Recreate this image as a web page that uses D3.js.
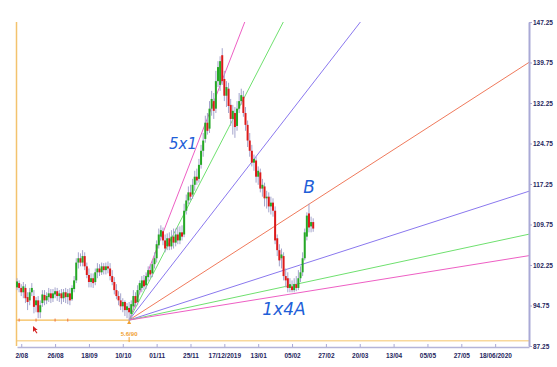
<!DOCTYPE html>
<html>
<head>
<meta charset="utf-8">
<script src="https://cdn.jsdelivr.net/npm/d3@7"></script>
<style>
body { margin: 0; background: #fff; }
svg { display: block; font-family: "Liberation Sans", Arial, sans-serif; }
</style>
</head>
<body>
<div id="chart"></div>
<script>
// daily bars
const opens = [
  98.1, 98.9, 98.0, 97.2, 98.0, 96.3, 95.7, 97.2, 96.5, 94.8,
  95.7, 93.5, 95.2, 96.7, 95.7, 96.3, 97.0, 96.1, 96.8, 97.4,
  96.5, 97.0, 96.1, 97.2, 96.3, 97.0, 95.9, 97.8, 99.4, 102.7,
  103.5, 102.7, 103.9, 102.0, 100.4, 99.1, 99.8, 99.1, 100.9, 101.6,
  100.9, 102.0, 101.3, 102.0, 101.6, 100.2, 99.1, 97.6, 96.5, 95.7,
  94.6, 95.4, 93.9, 94.3, 93.2, 94.6, 96.5, 95.4, 97.6, 98.0,
  99.4, 98.5, 100.0, 101.3, 100.7, 102.4, 103.5, 105.9, 107.5, 108.5,
  106.8, 105.7, 107.2, 105.7, 107.5, 106.4, 107.9, 106.8, 108.3, 107.9,
  112.3, 114.2, 115.7, 115.3, 117.1, 118.6, 118.2, 120.8, 123.4, 125.6,
  128.6, 127.5, 131.2, 132.6, 131.2, 136.3, 135.6, 141.1, 136.7, 133.6,
  134.9, 131.9, 129.3, 130.4, 128.0, 131.2, 132.6, 133.4, 130.4, 128.2,
  125.3, 123.4, 121.2, 121.6, 118.6, 119.4, 116.4, 116.8, 114.6, 114.9,
  113.1, 113.8, 112.3, 107.2, 105.0, 103.5, 103.9, 100.2, 99.8, 98.0,
  98.3, 97.6, 98.7, 98.0, 99.8, 100.9, 103.5, 107.5, 111.8, 109.4, 110.2
];
const highs = [
  99.8, 99.4, 98.7, 99.1, 98.7, 97.2, 98.0, 98.9, 97.6, 96.3,
  96.5, 95.7, 97.6, 97.6, 97.2, 98.0, 97.8, 97.8, 98.1, 98.0,
  97.6, 97.8, 97.8, 98.0, 97.8, 98.0, 98.5, 100.2, 103.5, 104.6,
  104.4, 105.0, 104.6, 102.7, 101.6, 100.7, 100.7, 101.6, 102.6, 102.4,
  102.7, 102.6, 102.7, 102.9, 102.6, 101.3, 100.0, 98.7, 97.4, 97.0,
  96.1, 95.7, 95.2, 95.4, 95.7, 97.6, 97.2, 98.5, 99.4, 100.2,
  100.4, 100.9, 102.0, 102.4, 103.1, 104.6, 106.8, 109.0, 109.6, 109.2,
  107.9, 108.1, 108.3, 108.7, 109.0, 109.0, 109.4, 109.4, 109.6, 113.6,
  115.3, 116.8, 117.1, 118.2, 119.7, 120.1, 121.9, 124.5, 126.7, 129.9,
  130.4, 132.6, 134.5, 134.1, 138.2, 140.0, 140.9, 142.4, 138.2, 136.3,
  136.0, 133.0, 131.9, 131.5, 132.6, 134.1, 134.9, 134.5, 131.5, 129.0,
  126.7, 124.5, 122.7, 122.3, 120.5, 120.1, 118.2, 117.5, 116.0, 115.7,
  114.9, 114.6, 113.1, 107.9, 106.1, 105.3, 104.6, 101.6, 100.9, 99.8,
  99.4, 99.8, 100.2, 101.3, 102.0, 104.6, 109.0, 112.0, 113.6, 111.2, 110.9
];
const lows = [
  97.6, 97.2, 96.5, 96.1, 95.2, 93.9, 94.8, 96.5, 93.3, 93.5,
  92.4, 92.4, 94.5, 94.8, 95.0, 95.4, 95.2, 95.4, 96.1, 95.6,
  95.4, 95.0, 95.4, 95.2, 95.0, 94.8, 95.6, 97.2, 98.9, 101.6,
  102.0, 102.0, 101.3, 99.8, 98.1, 98.1, 98.0, 98.5, 99.8, 100.2,
  100.4, 100.5, 100.5, 100.7, 99.4, 98.5, 96.8, 95.9, 94.8, 93.9,
  93.5, 92.8, 92.4, 92.05, 92.4, 93.9, 94.5, 94.8, 96.8, 97.2,
  97.6, 97.8, 99.2, 99.8, 100.0, 101.6, 102.7, 105.3, 106.8, 105.9,
  104.6, 105.0, 105.0, 105.1, 105.3, 105.7, 106.1, 106.1, 106.8, 107.4,
  111.6, 113.5, 114.2, 114.5, 116.0, 117.1, 117.5, 120.1, 122.3, 124.9,
  126.4, 126.7, 129.9, 129.3, 130.4, 135.2, 134.5, 135.6, 132.6, 131.5,
  130.4, 128.0, 126.4, 125.8, 127.1, 130.4, 131.9, 129.7, 127.1, 124.1,
  122.3, 120.5, 119.7, 117.5, 117.1, 115.7, 114.9, 113.1, 112.7, 112.0,
  111.6, 111.2, 106.1, 103.9, 102.0, 101.6, 99.4, 98.1, 97.2, 97.2,
  97.2, 97.2, 97.4, 97.6, 99.1, 100.2, 103.1, 106.8, 108.3, 108.3, 108.4
];
const closes = [
  99.2, 98.0, 97.2, 98.3, 96.1, 95.4, 97.2, 98.0, 94.5, 95.7,
  93.5, 94.8, 96.8, 95.7, 96.5, 97.0, 96.1, 97.0, 97.4, 96.5,
  97.0, 96.1, 97.2, 96.3, 97.0, 95.7, 98.0, 99.4, 102.7, 103.5,
  102.7, 103.9, 102.0, 100.4, 99.1, 99.8, 98.9, 100.9, 101.6, 100.9,
  102.0, 101.3, 102.0, 101.6, 100.2, 99.1, 97.6, 96.5, 95.7, 94.6,
  95.4, 93.9, 94.6, 93.5, 95.0, 96.5, 95.2, 97.6, 98.9, 99.4,
  98.3, 100.2, 101.3, 100.5, 102.4, 103.5, 106.1, 107.9, 108.7, 106.8,
  105.3, 107.2, 105.7, 107.5, 106.4, 107.9, 106.8, 108.3, 107.5, 112.3,
  114.2, 115.7, 114.9, 117.1, 118.6, 117.9, 120.8, 123.4, 125.3, 128.6,
  127.1, 131.2, 133.0, 130.8, 136.3, 138.9, 140.0, 136.3, 133.6, 135.2,
  131.7, 129.3, 130.8, 127.8, 131.2, 132.6, 133.7, 130.4, 128.2, 125.3,
  123.4, 121.2, 121.9, 118.6, 119.7, 116.4, 117.1, 114.6, 114.9, 113.1,
  113.8, 112.3, 106.8, 105.0, 103.1, 104.2, 100.2, 99.4, 98.0, 98.7,
  97.6, 98.7, 98.0, 99.8, 100.9, 103.5, 108.3, 111.4, 109.2, 110.2, 109.0
];

// date axis (one tick every 16 bars)
const tickBars = [2, 18, 34, 50, 66, 82, 98, 114, 130, 146, 162, 178, 194, 210, 226];
const tickLabels = ["2/08", "26/08", "18/09", "10/10", "01/11", "25/11", "17/12/2019", "13/01",
  "05/02", "27/02", "20/03", "13/04", "05/05", "27/05", "18/06/2020"];
const priceTicks = [87.25, 94.75, 102.25, 109.75, 117.25, 124.75, 132.25, 139.75, 147.25];

// gann fan from the october low
const fanBar = 53;
const fanPrice = 92.05;
const fanUnit = 0.2525;
const fanRatios = [4, 3, 2, 1, 1/2, 1/3, 1/4];
const fanColors = ["#ee5fc4", "#6fe06f", "#8a78ee", "#f07a5c", "#8a78ee", "#6fe06f", "#ee5fc4"];
const lastBar = 242;
const baseLevel = 88.2;

function drawChart(){
    var width = 557,
        height = 367;
    var left = 16, right = 529, top = 22, bottom = 346;

    var svg = d3.select("#chart")
      .append("svg")
      .attr("width", width)
      .attr("height", height);

    var x = d3.scaleLinear().domain([0, lastBar]).range([left + 1, right]);
    var y = d3.scaleLinear().domain([87.25, 147.25]).range([bottom, top]);

    svg.append("clipPath").attr("id", "plot")
      .append("rect")
      .attr("x", left).attr("y", top)
      .attr("width", right - left).attr("height", bottom - top);

    // orange level lines
    svg.append("line")
      .attr("x1", left).attr("x2", right)
      .attr("y1", y(baseLevel)).attr("y2", y(baseLevel))
      .attr("stroke", "#f8d89c").attr("stroke-width", 1.5);
    svg.append("line")
      .attr("x1", left + 0.5).attr("x2", left + 0.5)
      .attr("y1", top).attr("y2", bottom)
      .attr("stroke", "#f3c36e").attr("stroke-width", 1.5);
    svg.append("line")
      .attr("x1", left).attr("x2", x(fanBar))
      .attr("y1", y(fanPrice)).attr("y2", y(fanPrice))
      .attr("stroke", "#f5bb55").attr("stroke-width", 1.2);
    svg.selectAll(".mark")
      .data([1, 9, 18, 24])
      .enter()
      .append("line")
      .attr("x1", d => x(d)).attr("x2", d => x(d))
      .attr("y1", y(fanPrice) - 1.5).attr("y2", y(fanPrice) + 1.5)
      .attr("stroke", "#f07040");
    svg.append("text")
      .attr("x", x(fanBar)).attr("y", y(fanPrice) + 16)
      .attr("text-anchor", "middle")
      .style("font-size", "6px").style("font-weight", "bold")
      .attr("fill", "#f0a030")
      .text("5.6/90");
    svg.append("line")
      .attr("x1", x(fanBar)).attr("x2", x(fanBar))
      .attr("y1", y(fanPrice) + 17).attr("y2", y(fanPrice) + 22)
      .attr("stroke", "#f0a030");
    svg.append("path")
      .attr("d", "M" + x(fanBar) + "," + y(fanPrice) + "l-2,4h4z")
      .attr("fill", "#f0a030");

    // fan lines
    var plot = svg.append("g").attr("clip-path", "url(#plot)");
    plot.selectAll(".fan")
      .data(fanRatios)
      .enter()
      .append("line")
      .attr("x1", x(fanBar)).attr("y1", y(fanPrice))
      .attr("x2", x(lastBar))
      .attr("y2", d => y(fanPrice + d * fanUnit * (lastBar - fanBar)))
      .attr("stroke", (d, i) => fanColors[i])
      .attr("stroke-width", 1);

    // bars
    var bars = d3.range(closes.length);
    plot.selectAll(".wick")
      .data(bars)
      .enter()
      .append("line")
      .attr("x1", d => x(d)).attr("x2", d => x(d))
      .attr("y1", d => y(highs[d])).attr("y2", d => y(lows[d]))
      .attr("stroke", "#a4a4cc").attr("stroke-width", 1);
    plot.selectAll(".body")
      .data(bars)
      .enter()
      .append("rect")
      .attr("x", d => x(d) - 1)
      .attr("width", 2)
      .attr("y", d => y(Math.max(opens[d], closes[d])))
      .attr("height", d => Math.max(1, Math.abs(y(opens[d]) - y(closes[d]))))
      .attr("fill", d => closes[d] >= opens[d] ? "#25a825" : "#dd1a1a");

    // axes
    var yAxis = svg.append("g")
      .attr("transform", "translate(" + right + ",0)")
      .call(d3.axisRight(y).tickValues(priceTicks).tickSize(3).tickSizeOuter(0)
        .tickFormat(d3.format(".2f")).tickPadding(1));
    yAxis.select(".domain").attr("stroke", "#a9a9d6").attr("stroke-width", 2);
    yAxis.selectAll(".tick line").attr("stroke", "#a9a9d6");
    yAxis.selectAll("text").attr("fill", "#26265e")
      .style("font-size", "6.5px").style("font-weight", "bold");

    var xAxis = svg.append("g")
      .attr("transform", "translate(0," + (bottom + 1) + ")")
      .call(d3.axisBottom(x).tickValues(tickBars).tickSize(-3).tickSizeOuter(0)
        .tickPadding(6).tickFormat((d, i) => tickLabels[i]));
    xAxis.select(".domain").attr("stroke", "#b4b4d8").attr("stroke-width", 1.5);
    xAxis.selectAll(".tick line").attr("stroke", "#a9a9d6");
    xAxis.selectAll("text").attr("fill", "#26265e")
      .style("font-size", "6.5px").style("font-weight", "bold");

    // hand written notes
    var notes = [
      {text: "5x1", x: 183, y: 149, size: 15},
      {text: "B", x: 309, y: 193, size: 17},
      {text: "1x4A", x: 284, y: 315, size: 17}
    ];
    svg.selectAll(".note")
      .data(notes)
      .enter()
      .append("text")
      .attr("x", d => d.x).attr("y", d => d.y)
      .attr("text-anchor", "middle")
      .style("font-family", "'DejaVu Sans', sans-serif")
      .style("font-style", "italic")
      .style("font-size", d => d.size + "px")
      .attr("fill", "#1f5fd8")
      .text(d => d.text);

    // cursor
    svg.append("path")
      .attr("d", "M33,326l0,6l1.5,-1.5l2,3l1,-0.6l-2,-3l2.2,0z")
      .attr("fill", "#d42020");
}

drawChart();
</script>
</body>
</html>
